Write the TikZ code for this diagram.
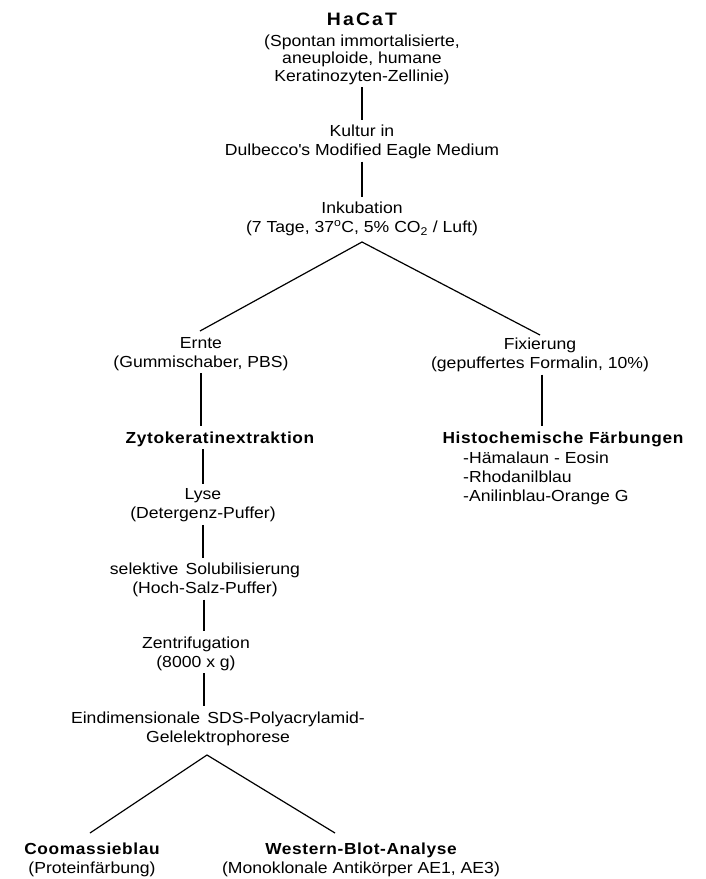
\documentclass[tikz,border=0pt]{standalone}
\usepackage{fontspec}
\setmainfont{Liberation Sans}[FakeStretch=1.1]
\newfontfamily\bsp{Liberation Sans}[FakeStretch=1.08,LetterSpace=4]
\newfontfamily\tsp{Liberation Sans}[FakeStretch=1.08,LetterSpace=12]
\begin{document}
\begin{tikzpicture}[x=1pt,y=-1pt,
  txt/.style={align=center, inner xsep=0pt, inner ysep=2.5pt, font=\fontsize{16}{19}\selectfont},
  bld/.style={inner xsep=0pt, inner ysep=2.5pt, font=\fontsize{16}{19}\selectfont\bsp\bfseries},
  conn/.style={line width=1.2pt, shorten >=2.5pt},
  branch/.style={line width=1.2pt, line join=miter}]
\useasboundingbox (0,0) rectangle (705,879);

% top column
\node[inner sep=0pt, font=\fontsize{18}{20}\selectfont\tsp\bfseries] (hacat) at (362,19) {HaCaT};
\node[txt, font=\fontsize{16}{17.5}\selectfont] (cell) at (362,59.5)
  {(Spontan immortalisierte,\\aneuploide, humane\\Keratinozyten-Zellinie)};
\node[txt] (kultur) at (362,142) {Kultur in\\Dulbecco\textquotesingle s Modified Eagle Medium};
\node[txt] (inkub) at (362,219) {Inkubation\\(7 Tage, 37\textsuperscript{o}C, 5\% CO\textsubscript{2} / Luft)};
\draw[conn] (cell) -- (kultur);
\draw[conn] (kultur) -- (inkub);

% first split
\coordinate (s1) at (362,242);
\coordinate (s1l) at (200,331);
\coordinate (s1r) at (540,335);
\draw[branch] (s1l) -- (s1) -- (s1r);

\node[txt] (ernte) at (201,354) {Ernte\\(Gummischaber, PBS)};
\node[txt] (fix) at (540,355) {Fixierung\\(gepuffertes Formalin, 10\%)};

% right column
\node[bld] (histo) at (563,439) {Histochemische\hspace{0.35em}Färbungen};
\node[txt, align=left, anchor=west, inner sep=0pt] (hlist) at (463,478)
  {-Hämalaun - Eosin\\-Rhodanilblau\\-Anilinblau-Orange G};
\draw[conn] ([xshift=2pt]fix.south) -- ([xshift=2pt]fix.south |- histo.north);

% left column
\node[bld] (zyto) at (220,439) {Zytokeratinextraktion};
\draw[conn] (ernte.south) -- (ernte.south |- zyto.north);
\node[txt] (lyse) at (203,505.5) {Lyse\\(Detergenz-Puffer)};
\draw[conn] (lyse.north |- zyto.south) -- (lyse.north);
\node[txt] (selek) at (205,580) {selektive\hspace{0.45em}Solubilisierung\\(Hoch-Salz-Puffer)};
\draw[conn] (lyse.south) -- (lyse.south |- selek.north);
\node[txt] (zentr) at (196,653.5) {Zentrifugation\\(8000 x g)};
\draw[conn] ([xshift=-1pt]selek.south) -- ([xshift=-1pt]selek.south |- zentr.north);
\node[txt] (eind) at (218,728.5) {Eindimensionale\hspace{0.45em}SDS-Polyacrylamid-\\Gelelektrophorese};
\draw[conn] ([xshift=8pt]zentr.south) -- ([xshift=8pt]zentr.south |- eind.north);

% second split
\coordinate (s2) at (207,755);
\coordinate (s2l) at (90,833);
\coordinate (s2r) at (335,833);
\draw[branch] (s2l) -- (s2) -- (s2r);

\node[txt] (coom) at (92,859.5) {{\bsp\bfseries Coomassieblau}\\(Proteinfärbung)};
\node[txt] (west) at (361,859.5) {{\bsp\bfseries Western-Blot-Analyse}\\(Monoklonale Antikörper AE1, AE3)};
\end{tikzpicture}
\end{document}
